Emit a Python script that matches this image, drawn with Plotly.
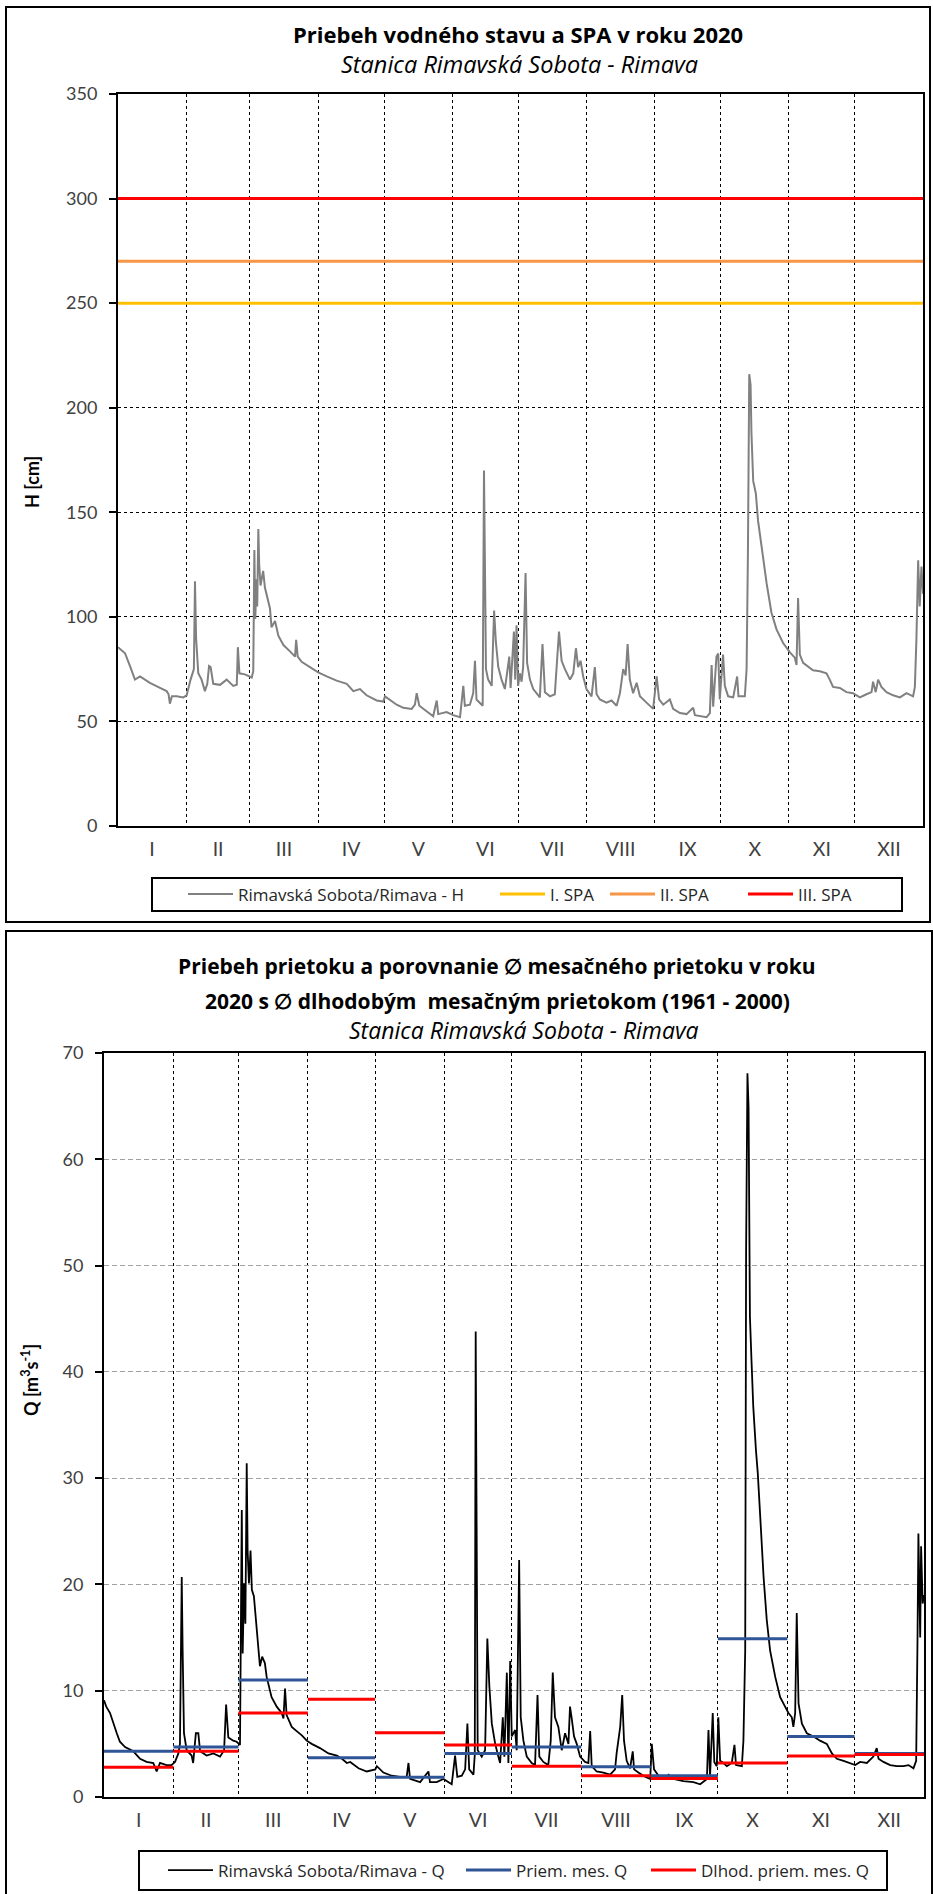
import plotly.graph_objects as go

W, H = 933, 1894
FONT = "Lato"
TFONT = "Open Sans"

# ---------------- data ----------------
months = ["I", "II", "III", "IV", "V", "VI", "VII", "VIII", "IX", "X", "XI", "XII"]
days_in_month = [31, 29, 31, 30, 31, 30, 31, 31, 30, 31, 30, 31]

spa_names = ["I. SPA", "II. SPA", "III. SPA"]
spa_levels = [250, 270, 300]
spa_colors = ["#FFC000", "#F79646", "#FF0000"]

# water level H [cm] (day of year, value)
h_day = [0, 3.2, 5.5, 7.0, 7.7, 10, 14.5, 19.1, 22.1, 23.0,
         23.6, 24.5, 26.7, 29.7, 31.2, 33, 34.5, 35, 35.5, 36.5,
         38, 39.5, 40.6, 41.4, 42.1, 43.3, 46.4, 49.4, 52.4, 54,
         54.5, 55.2, 57.7, 60.8, 61.5, 62, 62.4, 63, 63.3, 63.8,
         64.2, 64.8, 66, 66.8, 67.6, 69.1, 69.8, 71.4, 72.9, 75.2,
         78.2, 80.5, 81, 81.7, 83.5, 86.5, 91, 94.9, 99.4, 104,
         107, 110, 113, 117.6, 120.6, 121.4, 124.4, 126.7, 129.7, 133.5,
         135, 135.8, 137, 140.3, 143.3, 144.9, 145.6, 149.4, 152.4, 155.5,
         157, 157.7, 160, 161.5, 162.3, 163, 164.5, 165.8, 166.4, 166.7,
         167.3, 168.3, 169.9, 171, 171.8, 172.9, 174.4, 175.9, 177.9, 178.5,
         180, 180.6, 181.2, 181.9, 182.7, 183.5, 184.2, 185.3, 186, 187.3,
         188.8, 191.8, 193, 194.1, 196.4, 198.6, 200.5, 201.7, 203.2, 205.5,
         207, 208.2, 209.2, 210.3, 211.5, 213, 215.3, 216.8, 217.6, 219.1,
         222.1, 224.4, 226.7, 228.2, 229.7, 230.8, 231.7, 232.7, 234.2, 235.8,
         237.3, 240.3, 243.3, 244.9, 246, 247.9, 250.9, 252.4, 255.5, 258.5,
         261.5, 262.3, 264.5, 267.6, 269.1, 269.9, 270.6, 272.1, 272.9, 273.6,
         275.1, 275.9, 277.4, 279.7, 281.5, 282.1, 285, 285.8, 286.4, 287,
         287.6, 288, 288.8, 290, 291, 293.3, 294.9, 297.1, 299.4, 302.4,
         305.5, 307.7, 308.5, 309.2, 310, 311.5, 313.8, 316, 319.1, 322.1,
         323.6, 325.1, 328.2, 331.2, 334.2, 337.3, 340.3, 342.6, 343.3, 344.5,
         345.6, 347.1, 349.4, 352.4, 355.5, 358.5, 361.5, 362.3, 363, 363.8,
         364.5, 365.3, 366]
h_level = [85.5, 82.6, 76.3, 72.3, 70, 71.5, 68.4, 66, 64.5, 63,
           58.5, 62, 62, 61.5, 62.5, 70, 75, 117, 90, 73,
           70, 64.5, 68, 76.5, 76, 68, 67.5, 70, 67, 67.5,
           85.5, 73, 72.5, 71, 74, 132, 99, 118, 105, 142,
           125, 115, 122, 114, 110, 104, 95, 98, 91, 86.5,
           83.5, 81, 89, 81, 78.5, 76.5, 73.5, 71.5, 69.5, 68,
           64.5, 65.5, 62.5, 60, 59.5, 62, 59.5, 58, 56.5, 56,
           58, 63.5, 57.5, 55, 52.5, 60, 53.5, 54.5, 53, 52,
           67, 57.5, 58, 63.5, 79, 60.5, 59, 57.5, 170, 120,
           75, 70, 67, 103, 88, 76, 70, 65.5, 81, 66,
           93, 70, 96, 67, 73, 69, 76, 121, 78, 70,
           65.5, 61.5, 87, 64, 62, 63, 93, 79, 75, 70,
           73, 85, 76, 79, 71.5, 65.5, 62, 76, 63, 60.5,
           59, 60, 57.5, 63.5, 75, 72, 87, 70, 63.5, 68.5,
           62, 59, 56, 71.5, 60.5, 58, 60.5, 56, 54, 53.5,
           56.5, 53, 52.5, 52, 54, 77, 57, 81, 82.5, 60.5,
           82, 67, 62, 61.5, 71.5, 62, 62, 75, 130, 216,
           211, 188, 165, 159, 146, 128.5, 116, 102, 94, 87.5,
           83, 80.5, 77, 109, 82, 78, 76, 74.5, 74, 73,
           70, 66.5, 66, 64, 63.5, 61.5, 63, 64, 69, 64,
           70, 66.5, 64, 62.5, 61.5, 63.5, 62, 66.5, 89, 127,
           105, 124, 111]

# discharge Q [m3/s] (day of year, value)
q_day = [0, 1, 2.7, 4.2, 5.7, 7.1, 9.4, 13.1, 16.1, 19,
         22, 23.5, 25, 27.9, 30.1, 31.7, 33.2, 33.9, 34.7, 35.1,
         35.7, 36.9, 39.1, 39.8, 41, 42.1, 42.9, 45.8, 48.8, 51.8,
         53.6, 54.5, 55.5, 57.7, 59.2, 60.7, 61.5, 61.9, 62.5, 63.1,
         63.7, 64.1, 64.7, 65.4, 66, 66.9, 68.1, 69.6, 70.6, 71.8,
         72.6, 74.8, 77.1, 79.3, 80.1, 80.8, 81.5, 83.8, 86, 88.3,
         90.5, 92.7, 96.4, 100.2, 103.9, 106.2, 108.4, 109.9, 113.6, 117.3,
         121.1, 121.8, 124.7, 128.4, 132.1, 135.1, 135.9, 136.6, 141.1, 144.8,
         145.5, 148.5, 151.5, 155.2, 156.7, 157.7, 159.7, 161.2, 162.2, 163,
         164.9, 165.5, 165.9, 166.4, 166.8, 168.6, 170.1, 171.1, 172, 173.1,
         174.6, 176, 176.8, 178, 178.7, 179.8, 180.5, 181.3, 182, 183.5,
         184.2, 185.3, 186, 187.2, 188.7, 190.9, 192.4, 193.5, 194.3, 196.1,
         198.3, 199.4, 200.3, 201.3, 202.8, 204.3, 205.8, 207.3, 208, 208.7,
         209.8, 211, 212.5, 214.7, 216.2, 217, 217.7, 219.9, 222.9, 225.9,
         228.1, 228.8, 230.4, 231.3, 232.1, 233.3, 234.8, 236, 236.6, 238.5,
         241.5, 243.8, 244.5, 245.5, 247.5, 251.2, 252, 254.2, 258.6, 263.1,
         266.1, 269.1, 269.8, 270.5, 271.7, 272.4, 273.5, 274.2, 275, 276.5,
         278, 280.2, 281.4, 282.1, 284.7, 285.4, 286.2, 286.6, 287.2, 287.7,
         288.3, 289, 289.8, 291, 291.8, 292.9, 294.4, 295.8, 297.3, 299.6,
         301.8, 304, 305.5, 307, 307.7, 308.5, 309.2, 310, 311.5, 313.7,
         316.7, 319.6, 322.6, 324.9, 327.1, 330.1, 332.3, 335.3, 337.5, 340.5,
         343.4, 344.9, 345.7, 347.9, 350.9, 353.9, 356.8, 359.1, 361.3, 362.5,
         363.1, 363.5, 364.3, 364.7, 365.4, 366]
q_flow = [9.1, 8.5, 7.9, 6.9, 6.0, 5.2, 4.7, 4.3, 3.6, 3.3,
          3.2, 2.4, 3.2, 3.0, 3.0, 3.3, 4.1, 5.0, 20.7, 13.8,
          6.0, 4.4, 3.9, 3.2, 6.0, 6.0, 4.3, 3.9, 4.1, 3.8,
          4.4, 8.7, 5.6, 5.3, 5.2, 4.9, 27.0, 13.5, 20.1, 16.3,
          31.4, 23.2, 20.1, 23.2, 19.5, 18.9, 15.7, 12.3, 13.2, 12.6,
          11.3, 9.4, 8.5, 7.9, 7.4, 10.2, 7.7, 6.6, 6.2, 5.8,
          5.3, 5.0, 4.6, 4.1, 3.9, 3.6, 3.2, 3.3, 2.7, 2.4,
          2.6, 2.9, 2.3, 2.0, 1.9, 1.9, 3.2, 1.7, 1.4, 2.4,
          1.4, 1.4, 1.7, 1.2, 3.9, 1.9, 2.0, 2.6, 6.9, 2.6,
          2.1, 4.0, 43.8, 10.7, 4.4, 3.8, 4.4, 14.9, 10.4, 6.9,
          5.0, 3.8, 3.2, 7.5, 3.8, 11.7, 3.2, 12.8, 5.7, 6.3,
          4.4, 22.3, 7.5, 5.3, 3.8, 3.2, 3.0, 9.6, 3.8, 3.3,
          3.0, 5.3, 11.7, 7.5, 6.6, 4.4, 6.0, 5.0, 8.5, 7.5,
          5.7, 5.0, 3.8, 3.3, 3.2, 6.2, 2.9, 2.4, 2.3, 2.1,
          2.6, 4.1, 6.6, 9.6, 5.3, 3.4, 2.7, 4.3, 2.6, 2.3,
          1.9, 1.7, 5.0, 2.6, 2.0, 1.9, 2.1, 1.7, 1.5, 1.4,
          1.2, 1.7, 6.3, 1.9, 7.9, 3.3, 2.9, 7.5, 3.4, 3.2,
          2.9, 3.2, 4.9, 3.0, 2.9, 5.3, 13.8, 51.5, 68.1, 64.9,
          45.2, 41.1, 36.7, 32.6, 30.5, 26.4, 20.7, 16.7, 13.8, 11.3,
          9.4, 8.5, 7.9, 7.5, 6.6, 7.9, 17.3, 8.8, 6.9, 6.0,
          5.7, 5.3, 5.0, 4.1, 3.6, 3.4, 3.2, 3.0, 3.3, 3.2,
          3.8, 4.6, 3.6, 3.3, 3.0, 2.9, 2.9, 3.0, 2.7, 3.4,
          14.8, 24.8, 15.0, 23.6, 18.2, 19.0]

q_mean_2020 = [4.3, 4.7, 11.0, 3.7, 1.85, 4.1, 4.7, 2.85, 2.0, 14.9, 5.7, 4.1]
q_mean_longterm = [2.8, 4.3, 7.9, 9.2, 6.05, 4.9, 2.9, 2.0, 1.75, 3.2, 3.85, 4.0]

assert len(h_day) == len(h_level)
assert len(q_day) == len(q_flow)

# month positions
month_start, month_end = [], []
acc = 0
for d in days_in_month:
    month_start.append(acc)
    acc += d
    month_end.append(acc)
month_mid = [(a + b) / 2 for a, b in zip(month_start, month_end)]
month_bounds = month_end[:-1]
year_len = month_end[-1]


def seg(values):
    xs, ys = [], []
    for a, b, v in zip(month_start, month_end, values):
        xs += [a, b, None]
        ys += [v, v, None]
    return xs, ys


def px(x):
    return x / W


def py(y):
    return 1 - y / H


fig = go.Figure()

# ---- top chart ----
fig.add_trace(go.Scatter(x=h_day, y=h_level, mode="lines", name="Rimavská Sobota/Rimava - H",
                         line=dict(color="#808080", width=2), xaxis="x", yaxis="y", legend="legend"))
for i, (nm, lv, col) in enumerate(zip(spa_names, spa_levels, spa_colors)):
    fig.add_trace(go.Scatter(x=[0, year_len], y=[lv, lv], mode="lines", name=nm,
                             line=dict(color=col, width=3), xaxis="x", yaxis="y",
                             legend="legend%d" % (i + 2)))

# ---- bottom chart ----
fig.add_trace(go.Scatter(x=q_day, y=q_flow, mode="lines", name="Rimavská Sobota/Rimava - Q",
                         line=dict(color="black", width=1.8), xaxis="x2", yaxis="y2", legend="legend5"))
bx, by = seg(q_mean_2020)
fig.add_trace(go.Scatter(x=bx, y=by, mode="lines", name="Priem. mes. Q",
                         line=dict(color="#2F5597", width=3), xaxis="x2", yaxis="y2", legend="legend6"))
rx, ry = seg(q_mean_longterm)
fig.add_trace(go.Scatter(x=rx, y=ry, mode="lines", name="Dlhod. priem. mes. Q",
                         line=dict(color="#FF0000", width=3), xaxis="x2", yaxis="y2", legend="legend7"))

tickfont = dict(family=FONT, size=18, color="#404040")
monthfont = dict(family=FONT, size=19.5, color="#404040")

common_x = dict(range=[0, year_len], tickmode="array", tickvals=month_mid, ticktext=months,
                showgrid=False, zeroline=False, ticks="", showline=True, linecolor="black",
                linewidth=2, mirror=True, tickfont=monthfont, ticklabelstandoff=5)

fig.update_layout(
    width=W, height=H, margin=dict(l=0, r=0, t=0, b=0, autoexpand=False),
    paper_bgcolor="white", plot_bgcolor="white", showlegend=True,
    xaxis=dict(domain=[px(118), px(923)], anchor="y",
               minor=dict(tickmode="array", tickvals=month_bounds, showgrid=True, gridcolor="black",
                          griddash="3px,3px", gridwidth=1, ticks=""),
               **common_x),
    yaxis=dict(domain=[py(826), py(94)], anchor="x", range=[0, 350], dtick=50,
               showgrid=True, gridcolor="black", griddash="3px,3px", gridwidth=1,
               zeroline=False, ticks="outside", ticklen=7, tickwidth=1.5, tickcolor="black",
               showline=True, linecolor="black", linewidth=2, mirror=True,
               tickfont=tickfont, ticklabelstandoff=8),
    xaxis2=dict(domain=[px(104), px(924)], anchor="y2",
                minor=dict(tickmode="array", tickvals=month_bounds, showgrid=True, gridcolor="black",
                           griddash="3px,3px", gridwidth=1, ticks=""),
                **common_x),
    yaxis2=dict(domain=[py(1797), py(1053)], anchor="x2", range=[0, 70], dtick=10,
                showgrid=True, gridcolor="#A0A0A0", griddash="5px,3px", gridwidth=1,
                zeroline=False, ticks="outside", ticklen=7, tickwidth=1.5, tickcolor="black",
                showline=True, linecolor="black", linewidth=2, mirror=True,
                tickfont=tickfont, ticklabelstandoff=8),
)

leg_font = dict(family=TFONT, size=17, color="#262626")


def leg(xpx, ypx):
    return dict(x=px(xpx), y=py(ypx), xanchor="left", yanchor="middle", orientation="h",
                bgcolor="rgba(0,0,0,0)", borderwidth=0, font=leg_font, itemwidth=45)


fig.update_layout(
    legend=leg(183, 894.5), legend2=leg(495, 894.5), legend3=leg(605, 894.5), legend4=leg(743, 894.5),
    legend5=leg(163, 1870.5), legend6=leg(461, 1870.5), legend7=leg(646, 1870.5),
)

shapes = []


def rect(x0, y0, x1, y1, w=2):
    shapes.append(dict(type="rect", xref="paper", yref="paper", x0=px(x0), x1=px(x1),
                       y0=py(y1), y1=py(y0), line=dict(color="black", width=w),
                       fillcolor="rgba(0,0,0,0)", layer="above"))


rect(6, 7, 930, 922, 2)
rect(6, 931, 932, 1900, 2)
rect(152, 878, 902, 911, 2)
rect(139, 1851, 887, 1890, 2)
fig.update_layout(shapes=shapes)

ann = []


def text(xpx, ypx, t, size, angle=0, color="black", family=FONT):
    ann.append(dict(x=px(xpx), y=py(ypx), xref="paper", yref="paper", text=t, showarrow=False,
                    xanchor="center", yanchor="middle", textangle=angle,
                    font=dict(family=family, size=size, color=color)))


text(518, 34, "<b>Priebeh vodného stavu a SPA v roku 2020</b>", 22, family=TFONT)
text(519, 64, "<i>Stanica Rimavská Sobota - Rimava</i>", 23.5, family=TFONT)
text(32, 482, "<b>H [cm]</b>", 18, -90)
text(497, 966, "<b>Priebeh prietoku a porovnanie \u2205 mesačného prietoku v roku</b>", 21, family=TFONT)
text(497, 1001, "<b>2020 s \u2205 dlhodobým\u00a0 mesačným prietokom (1961 - 2000)</b>", 21, family=TFONT)
text(523, 1030, "<i>Stanica Rimavská Sobota - Rimava</i>", 23, family=TFONT)
text(30, 1380, "<b>Q [m<sup>3</sup>s<sup>-1</sup>]</b>", 18, -90)
fig.update_layout(annotations=ann)

fig.write_html("out.html", config={"displayModeBar": False},
               post_script="document.body.style.margin='0';")
